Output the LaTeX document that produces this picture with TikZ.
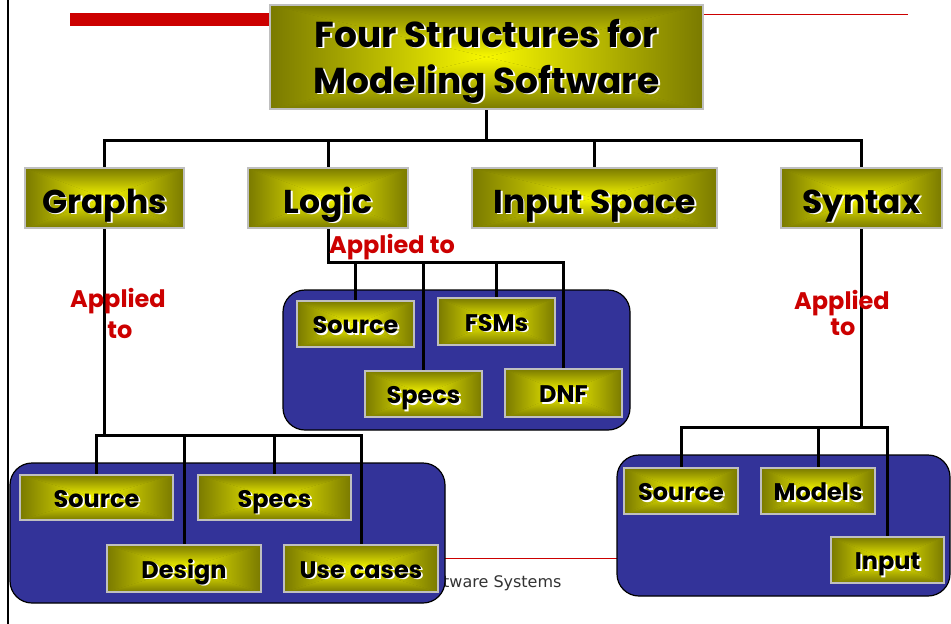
\documentclass[tikz,border=0pt]{standalone}
\usepackage{fontspec}
\newfontfamily\boxfont{Poppins}
\newfontfamily\footfont{DejaVu Sans}
\definecolor{edgeolive}{HTML}{7A7A00}
\definecolor{midyellow}{HTML}{F8F800}
\definecolor{frame}{HTML}{BFBFBF}
\definecolor{panel}{HTML}{333399}
\definecolor{accent}{HTML}{CC0000}
\definecolor{footgray}{HTML}{333333}
% black lettering with a white drop shadow
\newcommand\shd[1]{\leavevmode\rlap{\kern1.8pt\raisebox{-1.8pt}{\textcolor{white}{#1}}}#1}
\def\ppbb{path picture bounding box}
\tikzset{
  glow/.style={draw=frame, line width=2.6pt, inner sep=0pt,
    path picture={
      \fill[edgeolive] (\ppbb.south west) rectangle (\ppbb.north east);
      \shade[top color=edgeolive, bottom color=midyellow]
        (\ppbb.north west) -- (\ppbb.north east) -- (\ppbb.center) -- cycle;
      \shade[bottom color=edgeolive, top color=midyellow]
        (\ppbb.south west) -- (\ppbb.south east) -- (\ppbb.center) -- cycle;
      \shade[left color=edgeolive, right color=midyellow]
        (\ppbb.north west) -- (\ppbb.south west) -- (\ppbb.center) -- cycle;
      \shade[right color=edgeolive, left color=midyellow]
        (\ppbb.north east) -- (\ppbb.south east) -- (\ppbb.center) -- cycle;
    }},
  titlebox/.style={glow, font=\boxfont\bfseries\fontsize{36}{46}\selectfont, align=center},
  header/.style={glow, font=\boxfont\bfseries\fontsize{33}{40}\selectfont,
    text height=30pt, text depth=0pt},
  leaf/.style={glow, font=\boxfont\bfseries\fontsize{24}{28}\selectfont,
    text height=19pt, text depth=0pt},
  panelbox/.style={draw=black, line width=1.2pt, fill=panel, rounded corners=22pt, inner sep=0pt},
  wire/.style={line width=3pt, black},
  applied/.style={text=accent, font=\boxfont\bfseries\fontsize{24}{29}\selectfont, inner sep=0pt, align=center},
}
\begin{document}
\begin{tikzpicture}[x=1pt, y=-1pt]
\useasboundingbox (0,0) rectangle (951,624);
\fill[white] (0,0) rectangle (951,624);

% page furniture
\draw[line width=2pt] (8,0) coordinate (edgetop) -- (8,624) coordinate (edgebot);
\fill[accent] (70,13) rectangle (272,26);
\draw[accent, line width=1pt] (690,14) coordinate (rulea) -- (908,14) coordinate (ruleb);
\draw[accent, line width=1pt] (430,558) coordinate (rulec) -- (630,558) coordinate (ruled);
\node[anchor=base west, inner sep=0pt, text=footgray,
      font=\footfont\fontsize{16}{19}\selectfont] (foot) at (443,587) {tware Systems};

% title and the four structures
\node[titlebox, minimum width=433pt, minimum height=104pt] (title) at (486.5,57) {};
\node[font=\boxfont\bfseries\fontsize{36}{46}\selectfont, inner sep=0pt, anchor=base]
  (titleA) at (486.5,47) {\shd{Four Structures for}};
\node[font=\boxfont\bfseries\fontsize{36}{46}\selectfont, inner sep=0pt, anchor=base]
  (titleB) at (486.5,93) {\shd{Modeling Software}};
\node[header, minimum width=159pt, minimum height=60pt] (graphs) at (104.5,198) {\shd{Graphs}};
\node[header, minimum width=160pt, minimum height=60pt] (logic) at (328,198) {\shd{Logic}};
\node[header, minimum width=245pt, minimum height=60pt] (inspace) at (594.5,198) {\shd{Input Space}};
\node[header, minimum width=161pt, minimum height=60pt] (syntax) at (861.5,198) {\shd{Syntax}};

\coordinate (bus) at (0,140);
\draw[wire] (title.south) -- (title.south |- bus);
\draw[wire] (graphs.north) -- (graphs.north |- bus) -- (syntax.north |- bus) -- (syntax.north);
\draw[wire] (logic.north) -- (logic.north |- bus);
\draw[wire] (inspace.north) -- (inspace.north |- bus);

% panels of artefacts
\node[panelbox, minimum width=347pt, minimum height=140pt] (lpanel) at (456.5,360) {};
\node[panelbox, minimum width=435pt, minimum height=140pt] (gpanel) at (227.5,533) {};
\node[panelbox, minimum width=333pt, minimum height=141pt] (spanel) at (783.5,525.5) {};

% logic artefacts
\node[leaf, minimum width=117pt, minimum height=46pt] (lsource) at (355.5,324) {\shd{Source}};
\node[leaf, minimum width=117pt, minimum height=47pt] (lfsm) at (496.5,321.5) {\shd{FSMs}};
\node[leaf, minimum width=117pt, minimum height=46pt] (lspecs) at (423.5,394) {\shd{Specs}};
\node[leaf, minimum width=117pt, minimum height=48pt] (ldnf) at (563.5,393) {\shd{DNF}};

% graph artefacts
\node[leaf, minimum width=153pt, minimum height=45pt] (gsource) at (96.5,497.5) {\shd{Source}};
\node[leaf, minimum width=153pt, minimum height=45pt] (gspecs) at (274.5,497.5) {\shd{Specs}};
\node[leaf, minimum width=154pt, minimum height=47pt] (gdesign) at (184,568.5) {\shd{Design}};
\node[leaf, minimum width=154pt, minimum height=47pt] (guse) at (361,568.5) {\shd{Use cases}};

% syntax artefacts
\node[leaf, minimum width=114pt, minimum height=46pt] (ssource) at (681,491) {\shd{Source}};
\node[leaf, minimum width=114pt, minimum height=46pt] (smodels) at (818,491) {\shd{Models}};
\node[leaf, minimum width=113pt, minimum height=46pt] (sinput) at (887.5,560) {\shd{Input}};

% logic branch
\coordinate (lbus) at (0,262);
\draw[wire] (logic.south) -- (logic.south |- lbus) -- (ldnf.north |- lbus) -- (ldnf.north);
\draw[wire] (lsource.north) -- (lsource.north |- lbus);
\draw[wire] (lspecs.north) -- (lspecs.north |- lbus);
\draw[wire] (lfsm.north) -- (lfsm.north |- lbus);

% graph branch
\coordinate (gbus) at (0,435);
\draw[wire] (graphs.south) -- (graphs.south |- gbus);
\draw[wire] (gsource.north) -- (gsource.north |- gbus) -- (guse.north |- gbus) -- (guse.north);
\draw[wire] (gdesign.north) -- (gdesign.north |- gbus);
\draw[wire] (gspecs.north) -- (gspecs.north |- gbus);

% syntax branch
\coordinate (sbus) at (0,427);
\draw[wire] (syntax.south) -- (syntax.south |- sbus);
\draw[wire] (ssource.north) -- (ssource.north |- sbus) -- (sinput.north |- sbus) -- (sinput.north);
\draw[wire] (smodels.north) -- (smodels.north |- sbus);

% labels
\node[applied, anchor=base west] (lapplied) at (329,253) {Applied to};
\node[applied, anchor=base] (gapplied) at (118,307) {Applied};
\node[applied, anchor=base] (gto) at (120,338) {to};
\node[applied, anchor=base] (sapplied) at (842,309) {Applied};
\node[applied, anchor=base] (sto) at (843,335) {to};
\end{tikzpicture}
\end{document}
